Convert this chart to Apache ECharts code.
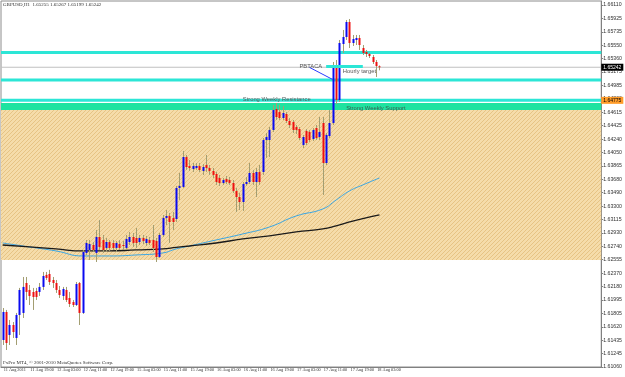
<!DOCTYPE html>
<html>
<head>
<meta charset="utf-8">
<script src="https://cdn.jsdelivr.net/npm/echarts@6/dist/echarts.min.js"></script>
<style>
  html, body { margin: 0; padding: 0; background: #fff; }
  #main { width: 625px; height: 377px; }
</style>
</head>
<body>
<div id="main"></div>
<script>
// GBPUSD H1, 11 Aug 2011 11:00 .. 18 Aug 2011 04:00
var opens = [1.61437,1.61828,1.61507,1.61646,1.61465,1.61786,1.61814,1.62232,1.62135,1.62107,
  1.62121,1.62107,1.62177,1.62345,1.62358,1.62274,1.62232,1.62135,1.62051,1.62135,
  1.62023,1.61967,1.61925,1.62232,1.61814,1.62651,1.62693,1.62762,1.62651,1.62874,
  1.62832,1.62721,1.62804,1.62790,1.62721,1.62776,1.62762,1.62721,1.62804,1.62874,
  1.62860,1.62804,1.62860,1.62790,1.62832,1.62832,1.62818,1.62595,1.62902,1.63139,
  1.63167,1.63139,1.63125,1.63558,1.63572,1.63990,1.63864,1.63822,1.63836,1.63864,
  1.63795,1.63878,1.63836,1.63795,1.63753,1.63697,1.63627,1.63683,1.63669,1.63627,
  1.63516,1.63432,1.63362,1.63613,1.63641,1.63767,1.63641,1.63781,1.63781,1.64227,
  1.64227,1.64367,1.64660,1.64618,1.64534,1.64590,1.64492,1.64478,1.64408,1.64380,
  1.64157,1.64353,1.64339,1.64241,1.64394,1.64269,1.64464,1.63906,1.64283,1.64464,
  1.65245,1.64785,1.65566,1.65664,1.65873,1.65580,1.65622,1.65650,1.65510,1.65455,
  1.65427,1.65385,1.65315,1.65255];
var closes = [1.61828,1.61395,1.61646,1.61548,1.61786,1.62135,1.62177,1.62107,1.62051,1.62037,
  1.62037,1.62177,1.62330,1.62302,1.62246,1.62232,1.62135,1.62065,1.62149,1.61995,
  1.61939,1.61925,1.62218,1.61814,1.62665,1.62790,1.62776,1.62693,1.62874,1.62735,
  1.62693,1.62804,1.62721,1.62721,1.62790,1.62721,1.62748,1.62846,1.62874,1.62790,
  1.62790,1.62860,1.62818,1.62846,1.62790,1.62721,1.62595,1.62902,1.63139,1.63167,
  1.63083,1.63083,1.63558,1.63586,1.63990,1.63850,1.63836,1.63864,1.63864,1.63809,
  1.63850,1.63836,1.63795,1.63739,1.63641,1.63627,1.63669,1.63641,1.63627,1.63516,
  1.63432,1.63362,1.63613,1.63641,1.63767,1.63641,1.63781,1.63641,1.64227,1.64269,
  1.64367,1.64646,1.64548,1.64534,1.64604,1.64492,1.64436,1.64367,1.64367,1.64255,
  1.64269,1.64185,1.64227,1.64367,1.64255,1.64339,1.63906,1.64297,1.64464,1.65245,
  1.64785,1.65580,1.65664,1.65873,1.65580,1.65636,1.65650,1.65552,1.65441,1.65427,
  1.65399,1.65315,1.65259,1.65242];
var lows = [1.61367,1.61297,1.61367,1.61465,1.61367,1.61507,1.61744,1.61995,1.61925,1.61856,
  1.61995,1.62051,1.62135,1.62274,1.62204,1.62163,1.62093,1.62023,1.61995,1.61967,
  1.61897,1.61897,1.61911,1.61646,1.61800,1.62623,1.62553,1.62665,1.62525,1.62693,
  1.62651,1.62665,1.62679,1.62693,1.62665,1.62693,1.62693,1.62693,1.62762,1.62735,
  1.62721,1.62762,1.62776,1.62748,1.62762,1.62665,1.62525,1.62581,1.62874,1.63041,
  1.62790,1.62972,1.63083,1.63390,1.63558,1.63809,1.63795,1.63781,1.63809,1.63781,
  1.63739,1.63781,1.63739,1.63697,1.63600,1.63586,1.63600,1.63613,1.63600,1.63488,
  1.63223,1.63250,1.63237,1.63586,1.63613,1.63600,1.63432,1.63600,1.63739,1.63976,
  1.63990,1.64339,1.64506,1.64506,1.64506,1.64464,1.64394,1.64325,1.64311,1.64227,
  1.64115,1.64157,1.64199,1.64213,1.64227,1.64227,1.63460,1.63878,1.64255,1.64436,
  1.64729,1.64757,1.65441,1.65622,1.65510,1.65538,1.65552,1.65483,1.65413,1.65385,
  1.65371,1.65287,1.65106,1.65199];
var highs = [1.61883,1.61856,1.61716,1.61688,1.61814,1.62163,1.62316,1.62316,1.62204,1.62163,
  1.62163,1.62232,1.62386,1.62386,1.62415,1.62316,1.62274,1.62190,1.62177,1.62177,
  1.62107,1.61995,1.62246,1.62246,1.62693,1.62832,1.62832,1.62804,1.62972,1.63111,
  1.62902,1.62860,1.62832,1.62832,1.62818,1.62832,1.62818,1.62902,1.62944,1.62930,
  1.62999,1.62902,1.62902,1.62888,1.62874,1.63041,1.62860,1.62930,1.63181,1.63250,
  1.63209,1.63223,1.63586,1.63767,1.64074,1.64018,1.63948,1.63906,1.63906,1.63906,
  1.63892,1.64018,1.63878,1.63836,1.63781,1.63739,1.63697,1.63725,1.63711,1.63669,
  1.63558,1.63488,1.63641,1.63711,1.63906,1.63809,1.63836,1.63878,1.64255,1.64325,
  1.64408,1.64715,1.64743,1.64715,1.64701,1.64618,1.64534,1.64506,1.64436,1.64408,
  1.64297,1.64380,1.64367,1.64394,1.64436,1.64548,1.64548,1.64325,1.64646,1.65315,
  1.65343,1.65622,1.65762,1.65901,1.65915,1.65692,1.65692,1.65692,1.65552,1.65483,
  1.65441,1.65413,1.65343,1.65267];

// moving averages, sampled at bar indices
var maIdx = [0, 8, 16, 24, 32, 40, 48, 52, 56, 64, 72, 80, 88, 96, 100, 104, 108, 113];
var maBlue = [1.62790,1.62735,1.62679,1.62609,1.62609,1.62623,1.62651,1.62707,1.62748,1.62832,1.62916,1.63013,1.63167,1.63265,1.63390,1.63516,1.63600,1.63697];
var maBlack = [1.62762,1.62735,1.62707,1.62679,1.62679,1.62693,1.62707,1.62728,1.62748,1.62790,1.62846,1.62888,1.62944,1.62986,1.63030,1.63083,1.63130,1.63181];

var priceLabels = ['1.61060','1.61245','1.61435','1.61620','1.61805','1.61995','1.62180','1.62370','1.62555','1.62740',
  '1.62930','1.63115','1.63300','1.63490','1.63680','1.63865','1.64050','1.64240','1.64425','1.64615',
  '1.64800','1.64985','1.65175','1.65360','1.65550','1.65735','1.65925','1.66110'];
var yMin = 1.61060, yTop = 1.66110, yMax = 1.66166;
var yStep = (yTop - yMin) / 27;

// horizontal objects [top, bottom] in price
var bidLine = [1.65249, 1.65235];
var cyanLines = [[1.65469, 1.65427], [1.65085, 1.65043], [1.64801, 1.64759]];
var greenBand = [1.64743, 1.64646];
var zoneBand = [1.64646, 1.62553];
var hourlyTarget = [97, 108, 1.6526];
var trendLine = [[91.8, 1.6524], [98.5, 1.6507]];

// hourly time categories (weekend skipped)
var months = ['Jan','Feb','Mar','Apr','May','Jun','Jul','Aug','Sep','Oct','Nov','Dec'];
var cats = [];
var t = Date.UTC(2011, 7, 11, 11);
while (cats.length < 180) {
    var d = new Date(t);
    var wd = d.getUTCDay();
    if (wd !== 0 && wd !== 6) {
        var hh = ('0' + d.getUTCHours()).slice(-2);
        cats.push(d.getUTCDate() + ' ' + months[d.getUTCMonth()] + ' ' + hh + ':00');
    }
    t += 3600000;
}
var lastBar = opens.length - 1;

var ohlc = [];
for (var i = 0; i < opens.length; i++) {
    ohlc.push([i, opens[i], closes[i], lows[i], highs[i]]);
}
function pairs(idx, vals) {
    var out = [];
    for (var k = 0; k < idx.length; k++) out.push([idx[k], vals[k]]);
    return out;
}
function showTick(idx) { return idx % 8 === 0 && idx < lastBar; }

// hatch pattern for the zone
var pat = document.createElement('canvas');
pat.width = 4; pat.height = 4;
var pc = pat.getContext('2d');
pc.fillStyle = '#f5dcaa';
pc.fillRect(0, 0, 4, 4);
pc.fillStyle = '#e6c384';
for (var p = 0; p < 4; p++) pc.fillRect(p, 3 - p, 1, 1);

var smallFont = 'Liberation Sans Narrow';
var cyan = '#2ce6d6';
function tag(text, bg, fg) {
    return { show: true, position: 'right', distance: 0, formatter: text, backgroundColor: bg, color: fg,
        fontSize: 5, fontFamily: 'Liberation Sans', padding: [1, 2] };
}
function band(range, color, label) {
    var a = { yAxis: range[0], itemStyle: { color: color } };
    if (label) a.label = label;
    return [a, { yAxis: range[1] }];
}

var myChart = echarts.init(document.getElementById('main'));
var option = {
    backgroundColor: '#ffffff',
    animation: false,
    grid: { left: 1, right: 18, top: 1, bottom: 10, show: true, borderColor: '#8c8c8c', borderWidth: 1 },
    xAxis: {
        type: 'category',
        data: cats,
        boundaryGap: true,
        axisLine: { lineStyle: { color: '#808080' } },
        axisTick: { interval: showTick, alignWithLabel: true, length: 3, lineStyle: { color: '#808080' } },
        axisLabel: {
            interval: showTick, align: 'left', margin: 1, padding: [0, 0, 0, 1],
            fontFamily: smallFont, fontSize: 4.3, color: '#303030',
            formatter: function (v, idx) { return idx === 0 ? '11 Aug 2011' : v; }
        },
        splitLine: { show: false }
    },
    yAxis: {
        type: 'value',
        position: 'right',
        min: yMin, max: yMax, interval: yStep,
        axisLine: { show: true, lineStyle: { color: '#808080' } },
        axisTick: { show: true, length: 2, lineStyle: { color: '#808080' } },
        axisLabel: {
            margin: 2, fontFamily: 'Liberation Sans', fontSize: 5.2, color: '#303030', showMaxLabel: false,
            formatter: function (v) {
                var k = Math.round((v - yMin) / yStep);
                return priceLabels[k] || '';
            }
        },
        splitLine: { show: false }
    },
    graphic: [
        { type: 'text', left: 3, top: 2, style: { text: 'GBPUSD,H1  1.65255 1.65267 1.65199 1.65242', fontFamily: smallFont, fontSize: 5, fill: '#303030' } },
        { type: 'text', left: 3, top: 360, style: { text: 'FxPro MT4, \u00a9 2001-2010 MetaQuotes Software Corp.', fontFamily: smallFont, fontSize: 5, fill: '#303030' } }
    ],
    series: [
        {
            // chart objects: zone, bands, level lines, texts
            type: 'line',
            data: [],
            z: 1,
            markArea: {
                silent: true,
                label: { show: false },
                data: [
                    band(zoneBand, { image: pat, repeat: 'repeat' }),
                    band(greenBand, '#1ee3a0'),
                    band(cyanLines[0], cyan),
                    band(cyanLines[1], cyan),
                    band(cyanLines[2], cyan, tag('1.64775', '#ff9c2a', '#000')),
                    band(bidLine, '#c0c0c0', tag('1.65242', '#000', '#fff'))
                ]
            },
            markPoint: {
                silent: true,
                symbolSize: 0,
                label: { show: true, position: 'right', distance: 0, fontFamily: 'Liberation Sans', fontSize: 5.8, color: '#555' },
                data: [
                    { coord: [72, 1.64795], value: 'Strong Weekly Resistance', label: { formatter: 'Strong Weekly Resistance' } },
                    { coord: [103, 1.64665], value: 'Strong Weekly Support', label: { formatter: 'Strong Weekly Support', color: '#3a5a50' } },
                    { coord: [88.6, 1.6525], value: 'PBTACA', label: { formatter: 'PBTACA' } },
                    { coord: [102, 1.6519], value: 'Hourly target', label: { formatter: 'Hourly target' } }
                ]
            }
        },
        {
            name: 'MA blue',
            type: 'line',
            data: pairs(maIdx, maBlue),
            smooth: true,
            showSymbol: false,
            z: 2,
            lineStyle: { color: '#3aa6e4', width: 1 },
            markLine: {
                silent: true,
                symbol: 'none',
                label: { show: false },
                lineStyle: { color: cyan, width: 3, type: 'solid' },
                data: [
                    [{ coord: [hourlyTarget[0], hourlyTarget[2]] }, { coord: [hourlyTarget[1], hourlyTarget[2]] }],
                    [{ coord: trendLine[0], lineStyle: { color: '#2a3cff', width: 1 } }, { coord: trendLine[1] }]
                ]
            }
        },
        {
            name: 'MA black',
            type: 'line',
            data: pairs(maIdx, maBlack),
            smooth: true,
            showSymbol: false,
            z: 2,
            lineStyle: { color: '#1a1a1a', width: 1.3 }
        },
        {
            name: 'GBPUSD',
            type: 'custom',
            z: 3,
            data: ohlc,
            encode: { x: 0, y: [1, 2, 3, 4] },
            renderItem: function (params, api) {
                var idx = api.value(0);
                var o = api.coord([idx, api.value(1)]);
                var c = api.coord([idx, api.value(2)]);
                var l = api.coord([idx, api.value(3)]);
                var h = api.coord([idx, api.value(4)]);
                var up = api.value(2) >= api.value(1);
                var x = Math.round(o[0]);
                var top = Math.min(o[1], c[1]);
                var bot = Math.max(o[1], c[1]);
                return {
                    type: 'group',
                    children: [
                        { type: 'line', shape: { x1: x + 0.5, y1: h[1], x2: x + 0.5, y2: l[1] }, style: { stroke: '#a39e72', lineWidth: 1 } },
                        { type: 'rect', shape: { x: x - 0.5, y: top, width: 2, height: Math.max(bot - top, 1) }, style: { fill: up ? '#0a0af0' : '#ee1010' } }
                    ]
                };
            }
        }
    ]
};
myChart.setOption(option);
</script>
</body>
</html>
